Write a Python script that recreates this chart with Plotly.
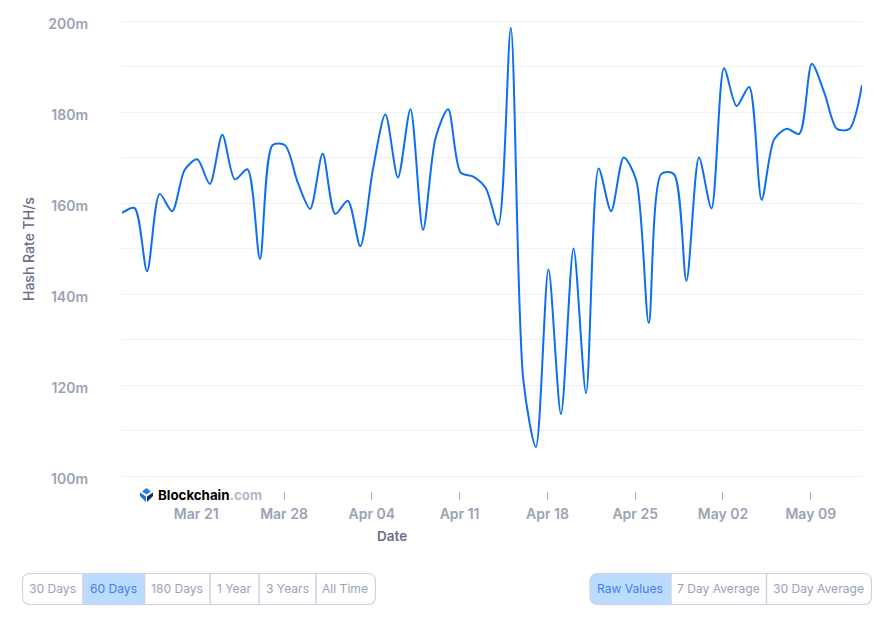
import pandas as pd
import plotly.graph_objects as go

dates = pd.date_range("2024-03-15 02:00", periods=60, freq="D")
hash_rate_m = [157.8, 158.9, 145.0, 162.0, 158.2, 167.3, 169.6, 164.2, 175.0, 165.2,
               167.4, 147.7, 172.7, 172.7, 164.6, 158.7, 170.8, 157.6, 160.5, 150.5,
               167.3, 179.5, 165.6, 180.6, 154.1, 174.3, 180.6, 166.7, 165.8, 163.3,
               155.2, 198.5, 121.0, 106.4, 145.4, 113.6, 150.0, 118.2, 167.6, 158.2,
               170.0, 165.0, 133.6, 166.4, 166.4, 142.9, 170.0, 158.8, 189.6, 181.3,
               185.5, 160.7, 174.0, 176.3, 175.2, 190.6, 184.2, 176.3, 176.3, 185.9]
y_ticks = [100, 110, 120, 130, 140, 150, 160, 170, 180, 190, 200]
y_labels = ["100m", "", "120m", "", "140m", "", "160m", "", "180m", "", "200m"]
x_ticks = ["2024-03-21", "2024-03-28", "2024-04-04", "2024-04-11",
           "2024-04-18", "2024-04-25", "2024-05-02", "2024-05-09"]
range_buttons = ["30 Days", "60 Days", "180 Days", "1 Year", "3 Years", "All Time"]
avg_buttons = ["Raw Values", "7 Day Average", "30 Day Average"]

FONT = "Inter, 'Noto Sans', sans-serif"
L, R, T, B = 122, 862, 11, 491
W, H = R - L, B - T
GRAY = "#9AA2B5"
SLATE = "#677085"
BORDER = "#CDD2E0"
ACTIVE = "#BBDCFE"
ACTIVE_TEXT = "#3F7FF0"


def px(x):
    return (x - L) / W


def py(y):
    return (B - y) / H


def rounded(x0, x1, y0, y1, rl, rr):
    p = f"M {px(x0 + rl)} {py(y0)} L {px(x1 - rr)} {py(y0)} "
    p += f"Q {px(x1)} {py(y0)} {px(x1)} {py(y0 + rr)} L {px(x1)} {py(y1 - rr)} "
    p += f"Q {px(x1)} {py(y1)} {px(x1 - rr)} {py(y1)} L {px(x0 + rl)} {py(y1)} "
    p += f"Q {px(x0)} {py(y1)} {px(x0)} {py(y1 - rl)} L {px(x0)} {py(y0 + rl)} "
    p += f"Q {px(x0)} {py(y0)} {px(x0 + rl)} {py(y0)} Z"
    return p


shapes, annots = [], []


def note(x, y, text, color, size=12.1, weight=400, **kw):
    annots.append(dict(xref="paper", yref="paper", x=px(x), y=py(y), text=text,
                       showarrow=False, xanchor="center", yanchor="middle",
                       font=dict(family=FONT, size=size, color=color, weight=weight), **kw))


def button_group(labels, edges, active, y0=573.5, y1=604.5):
    for i, lab in enumerate(labels):
        a, b = edges[i], edges[i + 1]
        if i == active:
            rl = 8 if i == 0 else 0
            shapes.append(dict(type="path", xref="paper", yref="paper",
                               path=rounded(a, b, y0, y1, rl, 0),
                               fillcolor=ACTIVE, line=dict(width=0), layer="below"))
        note((a + b) / 2 - 0.5, (y0 + y1) / 2 - 0.7, lab, ACTIVE_TEXT if i == active else GRAY)
    for e in edges[1:-1]:
        shapes.append(dict(type="line", xref="paper", yref="paper", x0=px(e), x1=px(e),
                           y0=py(y0), y1=py(y1), line=dict(color=BORDER, width=1.5)))
    shapes.append(dict(type="path", xref="paper", yref="paper",
                       path=rounded(edges[0], edges[-1], y0, y1, 8, 8),
                       fillcolor="rgba(0,0,0,0)", line=dict(color=BORDER, width=1.2)))


button_group(range_buttons, [22.5, 83, 144.5, 210, 259, 316, 375.5], 1)
button_group(avg_buttons, [590, 671, 766.5, 871.5], 0)

note(28, 249, "Hash Rate TH/s", SLATE, size=14, weight=500, textangle=-90)
note(392, 536, "Date", SLATE, size=13.5, weight=600)
annots.append(dict(xref="paper", yref="paper", x=px(155.5), y=py(495), xanchor="left", yanchor="middle",
                   showarrow=False,
                   text="<b>Blockchain<span style='color:#B4BAC9'>.com</span></b>",
                   font=dict(family=FONT, size=13.3, color="#000000")))

# Blockchain.com logo mark
for pts, col in [
    ([(146.5, 488), (151, 491.5), (146.5, 494.5), (142, 491.5)], "#2B7BF0"),
    ([(140, 492.5), (146, 496.5), (146, 502), (140, 496)], "#1F6FE8"),
    ([(153, 492.5), (147, 496.5), (147, 502), (153, 496)], "#122B5C"),
]:
    d = "M " + " L ".join(f"{px(x)} {py(y)}" for x, y in pts) + " Z"
    shapes.append(dict(type="path", xref="paper", yref="paper", path=d,
                       fillcolor=col, line=dict(width=0)))

fig = go.Figure(go.Scatter(x=dates, y=hash_rate_m, mode="lines",
                           line=dict(color="#0D6EF0", width=2, shape="spline", smoothing=0.8),
                           hoverinfo="x+y", cliponaxis=False))
fig.update_layout(
    width=890, height=617, autosize=False, showlegend=False,
    margin=dict(l=L, r=890 - R, t=T, b=617 - B, pad=0),
    paper_bgcolor="white", plot_bgcolor="white",
    font=dict(family=FONT, color=GRAY),
    shapes=shapes, annotations=annots,
    xaxis=dict(type="date", range=[dates[0], dates[-1]], tickvals=x_ticks, tickformat="%b %d",
               automargin=False,
               showgrid=False, zeroline=False, showline=False,
               ticks="outside", ticklen=8, tickwidth=1, tickcolor="#A8AEBD",
               ticklabelstandoff=2,
               tickfont=dict(family=FONT, size=14, color=GRAY, weight=600)),
    yaxis=dict(range=[100 - 15 / 4.55, 200 + 10 / 4.55], tickvals=y_ticks, ticktext=y_labels,
               automargin=False,
               showgrid=True, gridcolor="#EFF1F6", gridwidth=1, zeroline=False, showline=False,
               ticks="", ticklabelstandoff=33, ticklabelshift=3,
               tickfont=dict(family=FONT, size=14, color=GRAY, weight=600)),
)
fig.write_html("out.html", post_script="document.body.style.margin='0';",
               config=dict(displayModeBar=False))
